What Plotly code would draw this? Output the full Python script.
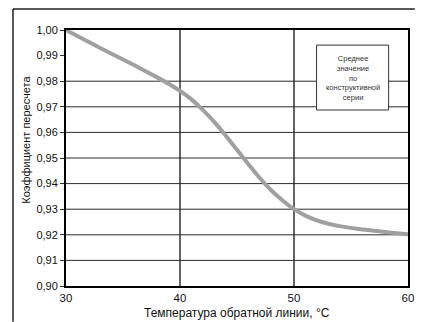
import plotly.graph_objects as go

# Data
temperature = [30, 32, 34, 36, 38, 39, 40, 41, 42, 43, 44, 45, 46, 47, 48, 49, 50,
               51, 52, 53, 54, 55, 56, 57, 58, 59, 60]
factor = [1.0000, 0.9953, 0.9907, 0.9862, 0.9815, 0.9790, 0.9762, 0.9729, 0.9688,
          0.9641, 0.9588, 0.9532, 0.9476, 0.9422, 0.9374, 0.9334, 0.9300,
          0.9275, 0.9256, 0.9243, 0.9234, 0.9227, 0.9221, 0.9216, 0.9211, 0.9206, 0.9202]

x_ticks = [30, 40, 50, 60]
y_ticks = [0.90, 0.91, 0.92, 0.93, 0.94, 0.95, 0.96, 0.97, 0.98, 0.99, 1.00]
y_grid = [0.91, 0.92, 0.93, 0.94, 0.95, 0.96, 0.97, 0.98]
legend_text = ["Среднее", "значение", "по", "конструктивной", "серии"]
x_title = "Температура обратной линии, °C"
y_title = "Коэффициент пересчета"

FONT = "Liberation Sans, Arial, Helvetica, sans-serif"

fig = go.Figure()
fig.add_trace(go.Scatter(
    x=temperature, y=factor, mode="lines",
    line=dict(color="#a0a0a0", width=4, shape="spline", smoothing=0.6),
    hoverinfo="skip", showlegend=False,
))

shapes = []
for g in y_grid:
    shapes.append(dict(type="line", xref="x", yref="y", x0=30, x1=60, y0=g, y1=g,
                       line=dict(color="#2a2a2a", width=1), layer="between"))

# legend-like box
shapes.append(dict(type="rect", xref="x", yref="y", x0=51.98, x1=58.3,
                   y0=0.96875, y1=0.9941, fillcolor="white",
                   line=dict(color="#333333", width=1), layer="between"))

# outer frame (left and top edges)
shapes.append(dict(type="line", xref="paper", yref="paper", x0=-0.155, x1=-0.155,
                   y0=1.082, y1=-0.14, line=dict(color="#222222", width=1.5), layer="above"))
shapes.append(dict(type="line", xref="paper", yref="paper", x0=-0.155, x1=1.02,
                   y0=1.082, y1=1.082, line=dict(color="#222222", width=1.5), layer="above"))

annotations = [
    dict(text="<br>".join(legend_text), x=55.14, y=0.9814, xref="x", yref="y",
         showarrow=False, font=dict(size=7.5, color="#333333", family=FONT),
         align="center"),
    dict(text=x_title, x=0.5, y=-0.105, xref="paper", yref="paper", showarrow=False,
         font=dict(size=12, color="#111111", family=FONT), yanchor="middle"),
    dict(text=y_title, x=-0.118, y=0.57, xref="paper", yref="paper", showarrow=False,
         textangle=-90, font=dict(size=11, color="#111111", family=FONT),
         xanchor="center", yanchor="middle"),
]

fig.update_layout(
    width=421, height=322,
    margin=dict(l=66, r=7, t=30, b=36),
    paper_bgcolor="white", plot_bgcolor="white",
    separators=", ",
    font=dict(family=FONT, size=11, color="#111111"),
    shapes=shapes, annotations=annotations,
    xaxis=dict(range=[30, 60], tickvals=x_ticks, ticks="", showgrid=True,
               gridcolor="#666666", gridwidth=1.5, showline=True, linecolor="black",
               linewidth=2, mirror=True, zeroline=False, fixedrange=True,
               tickfont=dict(size=11.5)),
    yaxis=dict(range=[0.90, 1.00], tickvals=y_ticks, tickformat=".2f", ticks="outside",
               ticklen=4, tickwidth=1, tickcolor="#333333", showgrid=False,
               showline=True, linecolor="black", linewidth=2, mirror=True,
               zeroline=False, fixedrange=True, tickfont=dict(size=11)),
)

fig.write_html("out.html", config={"displayModeBar": False},
               post_script="document.body.style.margin='0';document.body.style.padding='0';"
                           "document.documentElement.style.overflow='hidden';")
